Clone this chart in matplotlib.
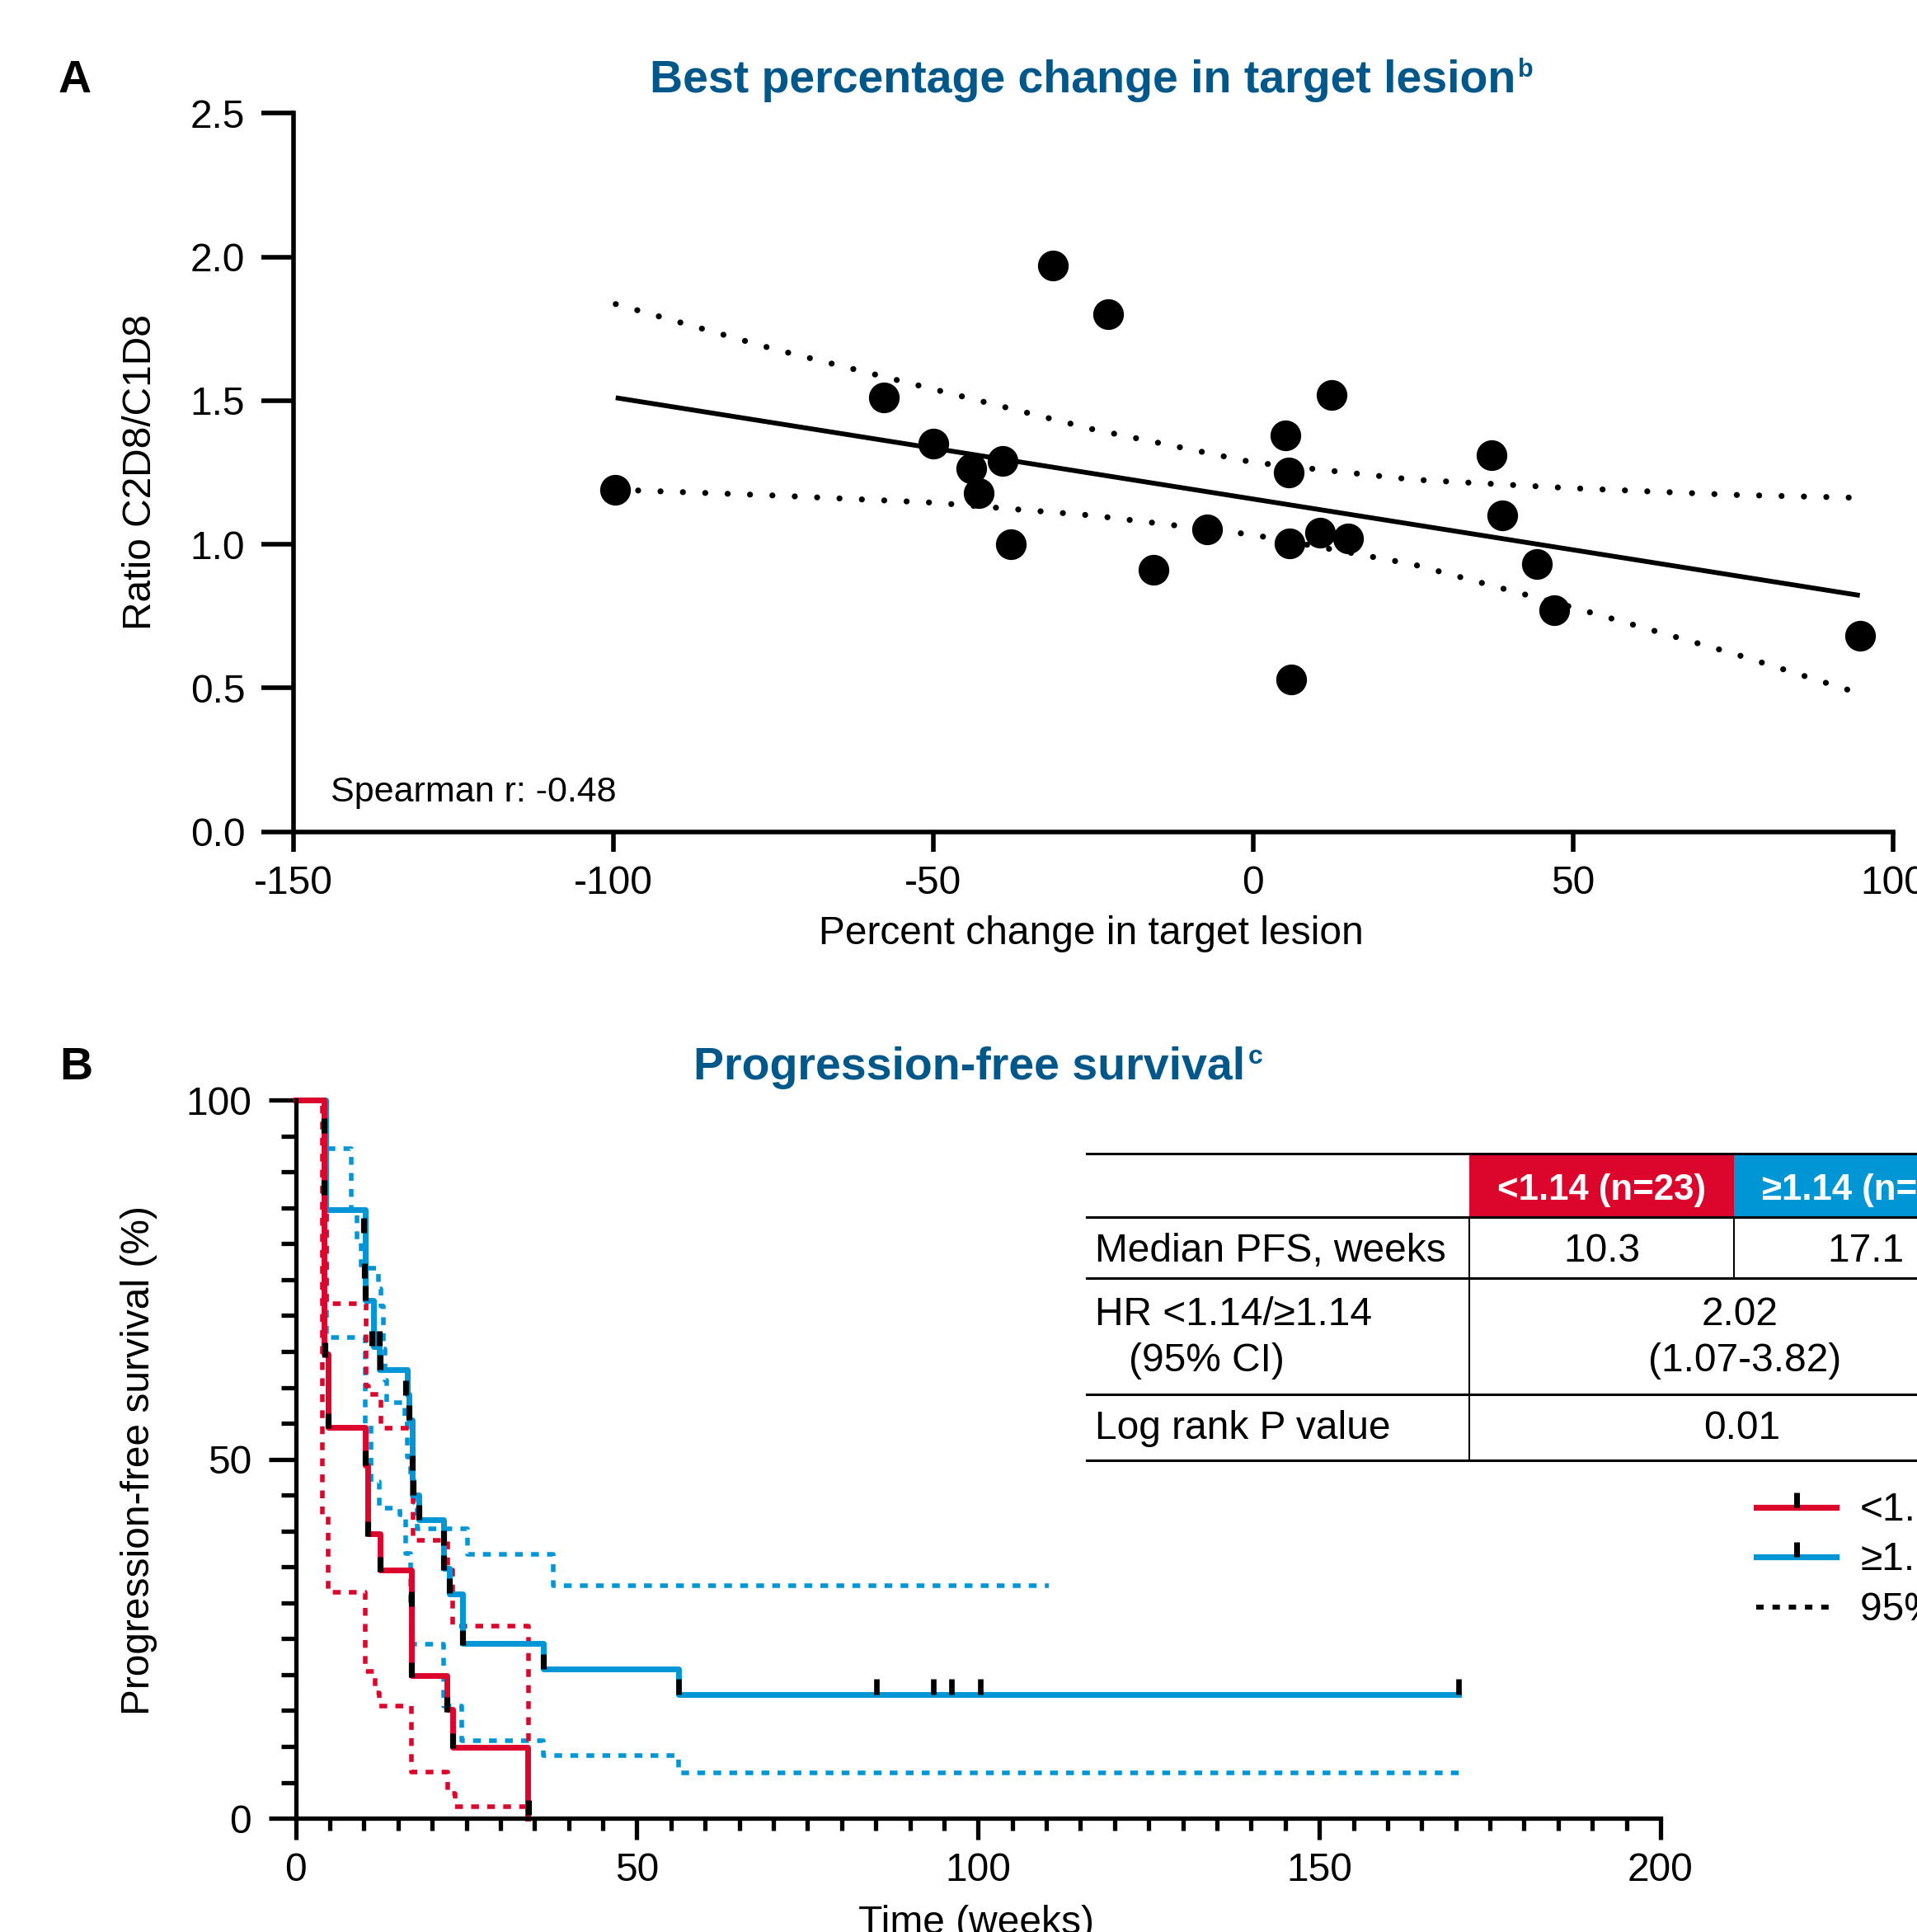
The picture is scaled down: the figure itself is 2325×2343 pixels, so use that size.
import matplotlib
matplotlib.use("Agg")
import matplotlib.pyplot as plt
from matplotlib.path import Path
from matplotlib.lines import Line2D
from matplotlib.patches import Rectangle
from matplotlib.ticker import FixedLocator, MultipleLocator

plt.rcParams['font.family'] = ['Liberation Sans', 'DejaVu Sans']
plt.rcParams['axes.unicode_minus'] = False

# ---------------- Panel A data ----------------
pct_change = [-99.7, -57.7, -50.0, -44.0, -42.9, -39.2, -37.9, -31.3, -22.7, -15.6, -7.2,
              5.1, 5.5, 5.7, 5.9, 10.4, 12.2, 14.8, 37.3, 38.9, 44.4, 47.1, 94.9]
ratio = [1.190, 1.510, 1.349, 1.263, 1.178, 1.289, 1.001, 1.971, 1.802, 0.910, 1.051,
         1.379, 1.249, 1.003, 0.530, 1.041, 1.520, 1.021, 1.311, 1.102, 0.930, 0.771, 0.681]
fit_x = [-99.6, 94.8]
fit_y = [1.510, 0.822]
band_x = [-99.6, -75, -50, -25, 0, 25, 50, 75, 94.3]
band_upper = [1.836, 1.68, 1.54, 1.40, 1.285, 1.225, 1.195, 1.172, 1.162]
band_lower = [1.190, 1.170, 1.145, 1.100, 1.033, 0.930, 0.780, 0.620, 0.484]
spearman_text = "Spearman r: -0.48"

# ---------------- Panel B data ----------------
red_t = [0, 4.2, 4.7, 10.2, 10.6, 12.4, 17.0, 22.2, 23.0, 34.0]
red_s = [100, 64.6, 54.4, 49.1, 39.6, 34.6, 19.9, 15.2, 9.9, 0]
red_up_t = [0, 4.5, 10.3, 10.7, 12.5, 17.2, 22.3, 23.0, 34.1]
red_up_s = [100, 71.6, 60.2, 59.0, 54.3, 38.7, 34.6, 26.8, 0]
red_lo_t = [0, 3.9, 4.7, 10.2, 11.6, 12.3, 17.0, 22.3, 23.4, 34.1]
red_lo_s = [100, 42.0, 31.5, 20.5, 17.5, 15.6, 6.4, 3.4, 1.6, 1.6]

blue_t = [0, 4.4, 10.2, 11.4, 12.3, 16.3, 16.6, 17.1, 18.1, 21.7, 22.5, 24.4, 36.3, 56.1, 170.4]
blue_s = [100, 84.7, 72.1, 65.7, 62.5, 59.0, 55.5, 45.0, 41.6, 34.8, 31.2, 24.3, 20.8, 17.2, 17.2]
blue_up_t = [0, 4.5, 8.2, 9.0, 9.6, 12.1, 12.5, 12.9, 13.1, 13.3, 16.0, 16.3, 16.8, 17.3, 17.8, 25.2, 37.8, 110.4]
blue_up_s = [100, 93.2, 84.6, 80.3, 76.6, 73.7, 71.3, 65.3, 61.0, 57.9, 54.9, 50.3, 47.5, 44.0, 40.3, 36.7, 32.4, 32.4]
blue_lo_t = [0, 4.5, 10.2, 11.1, 12.3, 15.3, 16.1, 16.8, 17.1, 21.7, 24.3, 36.3, 56.1, 170.8]
blue_lo_s = [100, 66.9, 54.9, 46.9, 43.2, 42.3, 36.9, 30.0, 24.2, 15.6, 10.8, 8.7, 6.3, 6.3]

# censor marks lying on the vertical drops
red_drop_cens_t = [4.2, 4.3, 4.7, 10.2, 10.6, 12.4, 17.0, 17.0, 22.2, 23.0, 34.1]
red_drop_cens_s = [87.8, 65.2, 55.3, 50.2, 40.3, 35.4, 30.6, 20.7, 15.9, 10.8, 1.5]
blue_drop_cens_t = [4.1, 10.0, 10.1, 10.2, 11.2, 12.3, 12.4, 16.1, 16.6, 17.1, 17.2, 18.1,
                    21.7, 21.7, 22.5, 24.4, 36.3]
blue_drop_cens_s = [96.5, 82.6, 76.2, 73.1, 66.8, 66.8, 63.5, 60.0, 56.5, 49.5, 46.1, 42.6,
                    39.1, 35.6, 32.4, 25.2, 21.8]
# censor marks on the plateau
blue_cens_t = [56.1, 85.1, 93.5, 96.1, 100.3, 170.4]
blue_cens_s = [17.2, 17.2, 17.2, 17.2, 17.2, 17.2]

legend_labels = ["<1.14", "\u22651.14", "95% CI"]
table_header = ["<1.14 (n=23)", "\u22651.14 (n=20)"]
median_pfs = ["10.3", "17.1"]
hr_text = ["2.02", "(1.07-3.82)"]
pval_text = "0.01"

# ---------------- Style ----------------
W, H, DPI = 2325, 2343, 100
RED = '#DC062D'
BLUE = '#0096D6'
NAVY = '#00588A'
FS = 34.5

fig = plt.figure(figsize=(W / DPI, H / DPI), dpi=DPI)


def X(px):
    return px / W


def Y(py):
    return 1 - py / H


# ================= Panel A =================
axA = fig.add_axes([X(355.6), Y(1008.5), (2296 - 355.6) / W, (1008.5 - 137.4) / H])
axA.set_xlim(-150, 100)
axA.set_ylim(0, 2.5)
for sp in ['top', 'right']:
    axA.spines[sp].set_visible(False)
for sp in ['left', 'bottom']:
    axA.spines[sp].set_linewidth(4)
dot_style = dict(color='k', lw=5.2, linestyle=(0, (0.01, 3.75)), dash_capstyle='round',
                 clip_on=False)
axA.plot(band_x, band_upper, **dot_style)
axA.plot(band_x, band_lower, **dot_style)
axA.plot(fit_x, fit_y, color='k', lw=4.2, solid_capstyle='butt')
axA.scatter(pct_change, ratio, s=720, color='k', linewidths=0, zorder=3, clip_on=False)
axA.xaxis.set_major_locator(FixedLocator([-150, -100, -50, 0, 50, 100]))
axA.yaxis.set_major_locator(FixedLocator([0, 0.5, 1.0, 1.5, 2.0, 2.5]))
axA.set_yticklabels(["0.0", "0.5", "1.0", "1.5", "2.0", "2.5"])
axA.tick_params(axis='y', length=28, width=4, pad=14, labelsize=FS)
axA.tick_params(axis='x', length=17.5, width=4, pad=12, labelsize=FS)
fig.text(X(401), Y(972), spearman_text, fontsize=31, ha='left', va='baseline')

fig.text(X(1323), Y(1145), "Percent change in target lesion", fontsize=FS,
         ha='center', va='baseline')
fig.text(X(183), Y(572), "Ratio C2D8/C1D8", fontsize=FS, rotation=90,
         rotation_mode='anchor', ha='center', va='baseline')

# ================= Panel B =================
axB = fig.add_axes([X(358.6), Y(2205.1), (2014 - 358.6) / W, (2205.1 - 1334.1) / H])
axB.set_xlim(0, 200)
axB.set_ylim(0, 100)
for sp in ['top', 'right']:
    axB.spines[sp].set_visible(False)
for sp in ['left', 'bottom']:
    axB.spines[sp].set_linewidth(3.8)

ci_style = dict(lw=4.0, linestyle=(0, (1.7, 1.8)), dash_capstyle='butt', clip_on=False)
axB.step(blue_up_t, blue_up_s, where='post', color=BLUE, **ci_style)
axB.step(blue_lo_t, blue_lo_s, where='post', color=BLUE, **ci_style)
axB.step(red_up_t, red_up_s, where='post', color=RED, **ci_style)
axB.step(red_lo_t, red_lo_s, where='post', color=RED, **ci_style)
axB.step(blue_t, blue_s, where='post', color=BLUE, lw=5.0, clip_on=False)
axB.step(red_t, red_s, where='post', color=RED, lw=5.0, clip_on=False)

up_tick = Path([(0, 0), (0, 1)], [Path.MOVETO, Path.LINETO])
axB.plot(red_drop_cens_t, red_drop_cens_s, ls='none', marker='|', ms=13.5, mew=5.2,
         color='k', zorder=5, clip_on=False)
axB.plot(blue_drop_cens_t, blue_drop_cens_s, ls='none', marker='|', ms=13.5, mew=5.2,
         color='k', zorder=5, clip_on=False)
axB.plot(blue_cens_t, blue_cens_s, ls='none', marker=up_tick, ms=27.4, mew=4.8,
         color='k', zorder=5, clip_on=False)

axB.xaxis.set_major_locator(FixedLocator([0, 50, 100, 150, 200]))
axB.xaxis.set_minor_locator(MultipleLocator(5))
axB.yaxis.set_major_locator(FixedLocator([0, 50, 100]))
axB.yaxis.set_minor_locator(MultipleLocator(5))
axB.tick_params(axis='x', which='major', length=18.5, width=3.8, pad=11, labelsize=FS)
axB.tick_params(axis='x', which='minor', length=10.6, width=3.8)
axB.tick_params(axis='y', which='major', length=24, width=3.8, pad=14.5, labelsize=FS)
axB.tick_params(axis='y', which='minor', length=13, width=3.8)

fig.text(X(1184), Y(2345), "Time (weeks)", fontsize=FS, ha='center', va='baseline')
fig.text(X(181), Y(1771), "Progression-free survival (%)", fontsize=FS, rotation=90,
         rotation_mode='anchor', ha='center', va='baseline')

# ================= Titles / panel letters =================
fig.text(X(71), Y(112.4), "A", fontsize=40, fontweight='bold', ha='left', va='baseline')
fig.text(X(72), Y(1309), "B", fontsize=40, fontweight='bold', ha='left', va='baseline')
tA = fig.text(X(1313), Y(112.4), "Best percentage change in target lesion", fontsize=40,
              fontweight='bold', color=NAVY, ha='center', va='baseline')
tB = fig.text(X(1176), Y(1309), "Progression-free survival", fontsize=40,
              fontweight='bold', color=NAVY, ha='center', va='baseline')

# ================= Table =================
tab_left, tab_right = 1318, 2460
col1, col2 = 1782.4, 2102.6
col3 = 2423
r0, r1, r2, r3, r4 = 1399.3, 1476, 1550, 1690.7, 1771
fig.add_artist(Rectangle((X(col1), Y(r1)), X(col2) - X(col1), Y(r0) - Y(r1),
                         transform=fig.transFigure, facecolor=RED, edgecolor='none'))
fig.add_artist(Rectangle((X(col2), Y(r1)), X(col3) - X(col2), Y(r0) - Y(r1),
                         transform=fig.transFigure, facecolor=BLUE, edgecolor='none'))
for ry in [r0, r1, r2, r3, r4]:
    fig.add_artist(Line2D([X(tab_left), X(tab_right)], [Y(ry), Y(ry)],
                          transform=fig.transFigure, color='k', lw=2.2))
fig.add_artist(Line2D([X(col1), X(col1)], [Y(r1), Y(r4)], transform=fig.transFigure,
                      color='k', lw=1.5))
fig.add_artist(Line2D([X(col2), X(col2)], [Y(r1), Y(r2)], transform=fig.transFigure,
                      color='k', lw=1.5))
fig.text(X((col1 + col2) / 2), Y(1455), table_header[0], fontsize=31.5, fontweight='bold',
         color='white', ha='center', va='baseline')
fig.text(X((col2 + col3) / 2), Y(1455), table_header[1], fontsize=31.5, fontweight='bold',
         color='white', ha='center', va='baseline')
fig.text(X(1327.5), Y(1530), "Median PFS, weeks", fontsize=FS, ha='left', va='baseline')
fig.text(X((col1 + col2) / 2), Y(1530), median_pfs[0], fontsize=FS, ha='center', va='baseline')
fig.text(X((col2 + col3) / 2), Y(1530), median_pfs[1], fontsize=FS, ha='center', va='baseline')
fig.text(X(1327.5), Y(1606.7), "HR <1.14/\u22651.14", fontsize=FS, ha='left', va='baseline')
fig.text(X(1368.6), Y(1663), "(95% CI)", fontsize=FS, ha='left', va='baseline')
fig.text(X(2110), Y(1606.7), hr_text[0], fontsize=FS, ha='center', va='baseline')
fig.text(X(2116), Y(1663), hr_text[1], fontsize=FS, ha='center', va='baseline')
fig.text(X(1327.5), Y(1745), "Log rank P value", fontsize=FS, ha='left', va='baseline')
fig.text(X(2113), Y(1745), pval_text, fontsize=FS, ha='center', va='baseline')

# ================= Legend =================
leg_x0, leg_x1, leg_tx = 2130, 2227, 2256
leg_y = [1827.7, 1888.4, 1949]
fig.add_artist(Line2D([X(leg_x0), X(leg_x1)], [Y(leg_y[0])] * 2, transform=fig.transFigure,
                      color=RED, lw=5.2))
fig.add_artist(Line2D([X(leg_x0), X(leg_x1)], [Y(leg_y[1])] * 2, transform=fig.transFigure,
                      color=BLUE, lw=5.2))
for ly in leg_y[:2]:
    fig.add_artist(Line2D([X((leg_x0 + leg_x1) / 2)], [Y(ly)], transform=fig.transFigure,
                          ls='none', marker=up_tick, ms=26, mew=5, color='k'))
fig.add_artist(Line2D([X(leg_x0), X(leg_x1)], [Y(leg_y[2])] * 2, transform=fig.transFigure,
                      color='k', lw=4.3, linestyle=(0, (1.5, 1.8))))
for lab, ly in zip(legend_labels, leg_y):
    fig.text(X(leg_tx), Y(ly + 16), lab, fontsize=FS, ha='left', va='baseline')

# ================= Superscripts =================
fig.canvas.draw()
rend = fig.canvas.get_renderer()
bbA = tA.get_window_extent(renderer=rend)
bbB = tB.get_window_extent(renderer=rend)
fig.text(X(bbA.x1 + 3), Y(92.6), "b", fontsize=22, fontweight='bold', color=NAVY,
         ha='left', va='baseline')
fig.text(X(bbB.x1 + 3), Y(1290), "c", fontsize=23, fontweight='bold', color=NAVY,
         ha='left', va='baseline')

fig.savefig("out.png", dpi=DPI)
